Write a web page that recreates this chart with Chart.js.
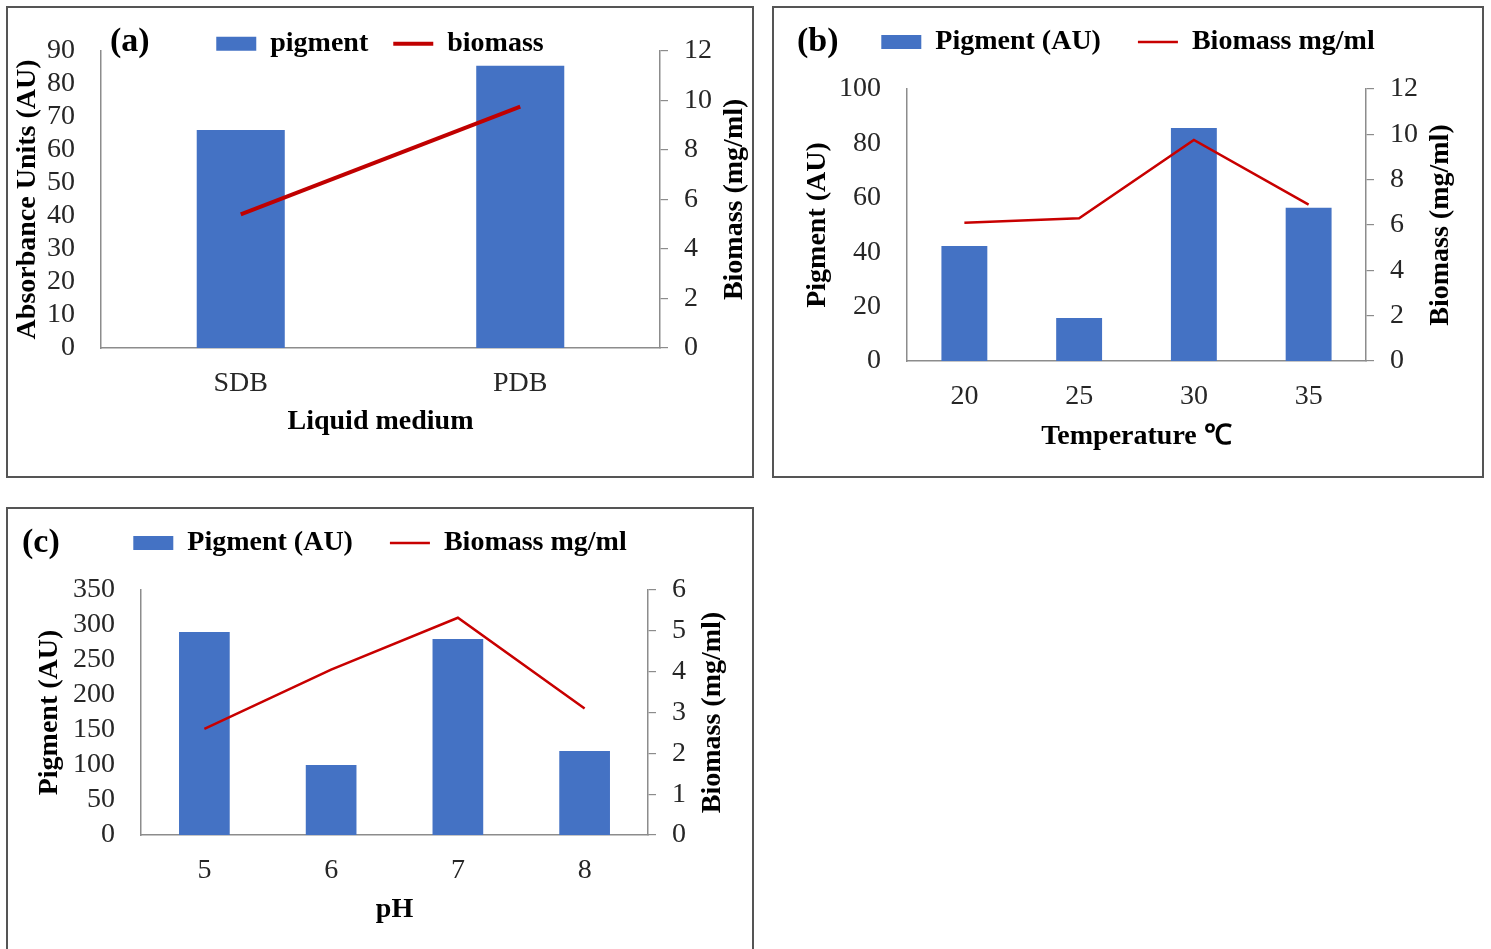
<!DOCTYPE html>
<html lang="en">
<head>
    <meta charset="UTF-8">
    <title>Pigment and biomass</title>
    <style>
        body {
            margin: 0;
            padding: 0;
            background: #fff;
            width: 1491px;
            height: 949px;
            overflow: hidden;
            position: relative;
            font-family: 'Liberation Serif', 'Times New Roman', serif;
        }
        .panel {
            position: absolute;
            box-sizing: border-box;
            border: 2px solid #555;
            background: #fff;
        }
        .tag {
            position: absolute;
            font-weight: bold;
            font-size: 34px;
            line-height: 1;
            color: #000;
        }
    </style>
    <script src="https://cdn.jsdelivr.net/npm/chart.js"></script>
</head>
<body>
    <div class="panel" style="left:6px; top:6px; width:748px; height:472px;"><canvas id="chartA"></canvas></div>
    <div class="panel" style="left:772px; top:6px; width:712px; height:472px;"><canvas id="chartB"></canvas></div>
    <div class="panel" style="left:6px; top:507px; width:748px; height:450px;"><canvas id="chartC"></canvas></div>
    <div class="tag" style="left:110px; top:23px;">(a)</div>
    <div class="tag" style="left:797px; top:23px;">(b)</div>
    <div class="tag" style="left:22px; top:524px;">(c)</div>
    <script>
        // (a) liquid medium
        const mediumLabels = ['SDB', 'PDB'];
        const mediumPigment = [66, 85.5];
        const mediumBiomass = [5.4, 9.75];

        // (b) temperature
        const tempLabels = ['20', '25', '30', '35'];
        const tempPigment = [42.3, 15.8, 85.7, 56.3];
        const tempBiomass = [6.1, 6.3, 9.75, 6.9];

        // (c) pH
        const phLabels = ['5', '6', '7', '8'];
        const phPigment = [290, 100, 280, 120];
        const phBiomass = [2.6, 4.05, 5.32, 3.1];

        const FONT = "'Liberation Serif', 'Times New Roman', serif";
        const BLUE = '#4472C4';
        const AXIS = '#8c8c8c';

        Chart.defaults.font.family = FONT;
        Chart.defaults.font.size = 28;
        Chart.defaults.color = '#262626';
        Chart.defaults.animation = false;

        // legend band keeps a fixed height so it can sit close to the plot,
        // and is drawn without clipping so the text may overhang it
        function legendBand(height) {
            return {
                id: 'legendBand',
                beforeLayout(chart) {
                    const lg = chart.legend;
                    if (!lg || lg._banded) return;
                    const fit = lg.fit;
                    lg.fit = function () { fit.call(this); this.height = height; };
                    lg.draw = function () { if (this.options.display) this._draw(); };
                    lg._banded = true;
                }
            };
        }

        // right axis title reads bottom-to-top like the left one
        function sideTitle(text, x) {
            return {
                id: 'sideTitle',
                afterDraw(chart) {
                    const { ctx, chartArea } = chart;
                    ctx.save();
                    ctx.translate(x, (chartArea.top + chartArea.bottom) / 2);
                    ctx.rotate(-Math.PI / 2);
                    ctx.font = 'bold 28px ' + FONT;
                    ctx.fillStyle = '#000';
                    ctx.textAlign = 'center';
                    ctx.textBaseline = 'middle';
                    ctx.fillText(text, 0, 0);
                    ctx.restore();
                }
            };
        }

        function makeChart(id, c) {
            const ctx = document.getElementById(id).getContext('2d');
            return new Chart(ctx, {
                type: 'bar',
                data: {
                    labels: c.labels,
                    datasets: [
                        {
                            label: c.barLabel,
                            data: c.bars,
                            backgroundColor: BLUE,
                            borderWidth: 0,
                            barPercentage: 1,
                            categoryPercentage: c.barPct,
                            yAxisID: 'y',
                            order: 2
                        },
                        {
                            type: 'line',
                            label: c.lineLabel,
                            data: c.line,
                            borderColor: c.lineColor,
                            backgroundColor: c.lineColor,
                            borderWidth: c.lineWidth,
                            pointRadius: 0,
                            tension: 0,
                            yAxisID: 'y1',
                            order: 1
                        }
                    ]
                },
                options: {
                    responsive: true,
                    maintainAspectRatio: false,
                    layout: { padding: { top: c.padTop, left: 0, right: 0, bottom: 0 } },
                    plugins: {
                        tooltip: { enabled: false },
                        legend: {
                            position: 'top',
                            labels: {
                                usePointStyle: true,
                                pointStyleWidth: 40,
                                boxHeight: 14,
                                padding: c.legendPad,
                                color: '#000',
                                font: { weight: 'bold', size: 28 },
                                sort: (a, b) => a.datasetIndex - b.datasetIndex,
                                generateLabels(chart) {
                                    return Chart.defaults.plugins.legend.labels.generateLabels(chart).map(item => {
                                        item.pointStyle = chart.data.datasets[item.datasetIndex].type === 'line' ? 'line' : 'rect';
                                        return item;
                                    });
                                }
                            }
                        }
                    },
                    scales: {
                        x: {
                            offset: true,
                            grid: { display: false, drawTicks: false },
                            border: { color: AXIS, width: 1.5 },
                            ticks: { padding: 19, autoSkip: false, maxRotation: 0 },
                            title: {
                                display: true,
                                text: c.xTitle,
                                color: '#000',
                                font: { weight: 'bold', size: 28 },
                                padding: { top: 0, bottom: c.xTitlePad }
                            },
                            afterFit: s => { s.height = c.xHeight; }
                        },
                        y: {
                            position: 'left',
                            min: 0,
                            max: c.yMax,
                            grid: { display: false, drawTicks: false },
                            border: { color: AXIS, width: 1.5 },
                            ticks: { stepSize: c.yStep, padding: 26, autoSkip: false },
                            title: {
                                display: true,
                                text: c.yTitle,
                                color: '#000',
                                font: { weight: 'bold', size: 28 },
                                padding: { top: c.yTitlePad, bottom: 0 }
                            },
                            afterFit: s => { s.width = c.yWidth; }
                        },
                        y1: {
                            position: 'right',
                            min: 0,
                            max: c.y1Max,
                            grid: { drawOnChartArea: false, drawTicks: true, tickLength: 8, color: AXIS, lineWidth: 1.2 },
                            border: { color: AXIS, width: 1.5 },
                            ticks: { stepSize: c.y1Step, padding: 16, autoSkip: false },
                            afterFit: s => { s.width = c.y1Width; }
                        }
                    }
                },
                plugins: [legendBand(c.legendHeight), sideTitle('Biomass (mg/ml)', c.rightTitleX)]
            });
        }

        makeChart('chartA', {
            labels: mediumLabels, bars: mediumPigment, line: mediumBiomass,
            barLabel: 'pigment', lineLabel: 'biomass',
            barPct: 0.315, lineColor: '#C00000', lineWidth: 4,
            xTitle: 'Liquid medium', yTitle: 'Absorbance Units (AU)',
            yMax: 90, yStep: 10, y1Max: 12, y1Step: 2,
            padTop: -7, legendPad: 25, legendHeight: 46,
            xHeight: 128, xTitlePad: 37, yWidth: 93, yTitlePad: 3, y1Width: 92,
            rightTitleX: 727
        });

        makeChart('chartB', {
            labels: tempLabels, bars: tempPigment, line: tempBiomass,
            barLabel: 'Pigment (AU)', lineLabel: 'Biomass mg/ml',
            barPct: 0.40, lineColor: '#C80000', lineWidth: 2.5,
            xTitle: 'Temperature ℃', yTitle: 'Pigment (AU)',
            yMax: 100, yStep: 20, y1Max: 12, y1Step: 2,
            padTop: -17, legendPad: 37, legendHeight: 98,
            xHeight: 115, xTitlePad: 22, yWidth: 133, yTitlePad: 27, y1Width: 116,
            rightTitleX: 667
        });

        makeChart('chartC', {
            labels: phLabels, bars: phPigment, line: phBiomass,
            barLabel: 'Pigment (AU)', lineLabel: 'Biomass mg/ml',
            barPct: 0.40, lineColor: '#C80000', lineWidth: 2.5,
            xTitle: 'pH', yTitle: 'Pigment (AU)',
            yMax: 350, yStep: 50, y1Max: 6, y1Step: 1,
            padTop: -17, legendPad: 37, legendHeight: 98,
            xHeight: 120, xTitlePad: 28, yWidth: 133, yTitlePad: 25, y1Width: 104,
            rightTitleX: 705
        });
    </script>
</body>
</html>
